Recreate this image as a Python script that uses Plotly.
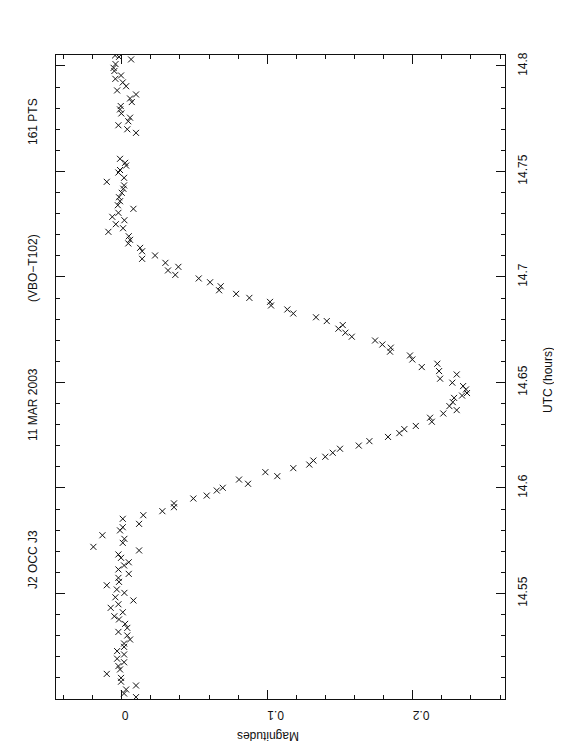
import plotly.graph_objects as go

# UTC (hours) and magnitudes, in time order (latest first)
utc_hours = [
    14.8050, 14.8043, 14.8031, 14.8009, 14.7991, 14.7976, 14.7955, 14.7939, 14.7922, 14.7904,
    14.7884, 14.7865, 14.7846, 14.7829, 14.7810, 14.7794, 14.7775, 14.7755, 14.7738, 14.7719,
    14.7700, 14.7683, 14.7560, 14.7541, 14.7528, 14.7507, 14.7495, 14.7470, 14.7451, 14.7434,
    14.7418, 14.7399, 14.7378, 14.7359, 14.7340, 14.7323, 14.7304, 14.7285, 14.7269, 14.7250,
    14.7231, 14.7214, 14.7193, 14.7176, 14.7159, 14.7138, 14.7122, 14.7102, 14.7086, 14.7067,
    14.7048, 14.7031, 14.7010, 14.6993, 14.6975, 14.6956, 14.6937, 14.6920, 14.6901, 14.6882,
    14.6865, 14.6846, 14.6827, 14.6809, 14.6791, 14.6772, 14.6755, 14.6736, 14.6717, 14.6699,
    14.6680, 14.6665, 14.6646, 14.6628, 14.6609, 14.6589, 14.6573, 14.6554, 14.6538, 14.6518,
    14.6499, 14.6483, 14.6467, 14.6450, 14.6438, 14.6427, 14.6407, 14.6388, 14.6369, 14.6353,
    14.6333, 14.6314, 14.6294, 14.6279, 14.6260, 14.6242, 14.6222, 14.6201, 14.6186, 14.6167,
    14.6148, 14.6130, 14.6111, 14.6094, 14.6075, 14.6056, 14.6040, 14.6020, 14.6001, 14.5988,
    14.5964, 14.5950, 14.5927, 14.5909, 14.5890, 14.5871, 14.5854, 14.5830, 14.5814, 14.5799,
    14.5776, 14.5759, 14.5740, 14.5721, 14.5704, 14.5685, 14.5669, 14.5648, 14.5633, 14.5614,
    14.5593, 14.5574, 14.5555, 14.5539, 14.5519, 14.5503, 14.5482, 14.5467, 14.5449, 14.5432,
    14.5411, 14.5392, 14.5377, 14.5356, 14.5337, 14.5318, 14.5301, 14.5282, 14.5263, 14.5247,
    14.5227, 14.5211, 14.5191, 14.5174, 14.5156, 14.5140, 14.5119, 14.5100, 14.5082, 14.5064,
    14.5045, 14.5026, 14.5009,
]

magnitudes = [
    -0.0046, -0.0019, 0.0064, -0.0043, -0.0056, -0.0051, -0.0005, -0.0044, 0.0007, 0.0030,
    -0.0032, 0.0098, 0.0057, 0.0069, -0.0007, -0.0012, -0.0003, 0.0057, 0.0045, -0.0023,
    0.0038, 0.0098, -0.0012, 0.0023, 0.0030, -0.0012, -0.0023, 0.0016, -0.0103, 0.0016,
    0.0011, 0.0000, -0.0019, -0.0012, -0.0027, 0.0080, -0.0023, -0.0065, 0.0018, -0.0041,
    0.0009, -0.0092, 0.0048, 0.0057, 0.0045, 0.0126, 0.0140, 0.0229, 0.0140, 0.0300,
    0.0389, 0.0318, 0.0368, 0.0529, 0.0607, 0.0680, 0.0669, 0.0786, 0.0877, 0.1019,
    0.1026, 0.1138, 0.1179, 0.1335, 0.1409, 0.1519, 0.1489, 0.1537, 0.1581, 0.1741,
    0.1791, 0.1849, 0.1844, 0.1981, 0.1997, 0.2169, 0.2062, 0.2181, 0.2302, 0.2188,
    0.2272, 0.2346, 0.2366, 0.2373, 0.2339, 0.2284, 0.2275, 0.2252, 0.2302, 0.2210,
    0.2119, 0.2131, 0.2021, 0.1942, 0.1908, 0.1830, 0.1702, 0.1629, 0.1500, 0.1450,
    0.1399, 0.1317, 0.1289, 0.1179, 0.0987, 0.1069, 0.0806, 0.0868, 0.0694, 0.0653,
    0.0584, 0.0492, 0.0359, 0.0359, 0.0279, 0.0148, 0.0007, 0.0119, 0.0007, -0.0012,
    -0.0133, 0.0018, 0.0007, -0.0195, 0.0119, -0.0023, -0.0005, 0.0048, 0.0016, -0.0023,
    0.0048, -0.0023, -0.0019, -0.0103, -0.0034, 0.0018, -0.0044, 0.0080, -0.0023, -0.0076,
    0.0007, -0.0051, -0.0019, 0.0023, 0.0038, -0.0023, 0.0038, 0.0057, 0.0016, 0.0016,
    -0.0032, 0.0016, -0.0032, 0.0016, -0.0023, -0.0012, -0.0103, -0.0005, -0.0005, 0.0098,
    0.0030, 0.0016, 0.0098,
]

mag_ticks = [0, 0.1, 0.2]
mag_tick_labels = ["0", "0.1", "0.2"]
utc_ticks = [14.55, 14.6, 14.65, 14.7, 14.75, 14.8]
utc_tick_labels = ["14.55", "14.6", "14.65", "14.7", "14.75", "14.8"]
title_parts = ["J2 OCC J3", "11 MAR 2003", "(VBO\u2212T102)", "161 PTS"]

FONT = "Liberation Sans, Arial, sans-serif"
INK = "#111111"

# page has an 8px body margin; plot area should sit at x 56..505, y 55..699 on the page
PAGE_OFF = 8
PL, PT, PW, PH = 56, 55, 449, 644
FIG_W, FIG_H = 554, 748

fig = go.Figure()
fig.add_trace(go.Scatter(
    x=magnitudes, y=utc_hours, mode="markers",
    marker=dict(symbol="x-thin", size=6, line=dict(width=1, color=INK), color=INK),
    showlegend=False, hoverinfo="skip",
))

fig.update_layout(
    width=FIG_W, height=FIG_H,
    margin=dict(l=PL - PAGE_OFF, r=FIG_W - (PL - PAGE_OFF) - PW,
                t=PT - PAGE_OFF, b=FIG_H - (PT - PAGE_OFF) - PH),
    paper_bgcolor="white", plot_bgcolor="white",
    font=dict(family=FONT, size=12, color=INK),
)

fig.update_xaxes(
    range=[-0.0452, 0.2634], showgrid=False, zeroline=False,
    showline=True, linecolor=INK, linewidth=1, mirror="allticks",
    tickmode="array", tickvals=mag_ticks, ticktext=mag_tick_labels,
    ticks="inside", ticklen=9, tickwidth=1, tickcolor=INK, tickangle=180,
    ticklabelstandoff=9,
    tickfont=dict(family=FONT, size=12, color=INK),
    minor=dict(dtick=0.02, tick0=0, ticks="inside", ticklen=4, tickwidth=1, tickcolor=INK),
)

fig.update_yaxes(
    range=[14.5, 14.8052], side="right", showgrid=False, zeroline=False,
    showline=True, linecolor=INK, linewidth=1, mirror="allticks",
    tickmode="array", tickvals=utc_ticks, ticktext=utc_tick_labels,
    ticks="inside", ticklen=9, tickwidth=1, tickcolor=INK, tickangle=-90,
    ticklabelstandoff=7,
    tickfont=dict(family=FONT, size=12, color=INK),
    minor=dict(dtick=0.01, tick0=14.5, ticks="inside", ticklen=4, tickwidth=1, tickcolor=INK),
)


def px_to_paper(xp, yp):
    return (xp - PL) / PW, 1 - (yp - PT) / PH


# rotated title pieces on the left
title_y_px = [560, 405, 268, 122]
for txt, ypx in zip(title_parts, title_y_px):
    ax, ay = px_to_paper(33, ypx)
    fig.add_annotation(
        text=txt, xref="paper", yref="paper", x=ax, y=ay,
        showarrow=False, textangle=-90, xanchor="center", yanchor="middle",
        font=dict(family=FONT, size=12, color=INK),
    )

ax, ay = px_to_paper(548, 380)
fig.add_annotation(
    text="UTC (hours)", xref="paper", yref="paper", x=ax, y=ay,
    showarrow=False, textangle=-90, xanchor="center", yanchor="middle",
    font=dict(family=FONT, size=12, color=INK),
)
ax, ay = px_to_paper(268, 736)
fig.add_annotation(
    text="Magnitudes", xref="paper", yref="paper", x=ax, y=ay,
    showarrow=False, textangle=180, xanchor="center", yanchor="middle",
    font=dict(family=FONT, size=12, color=INK),
)

fig.write_html("out.html")
